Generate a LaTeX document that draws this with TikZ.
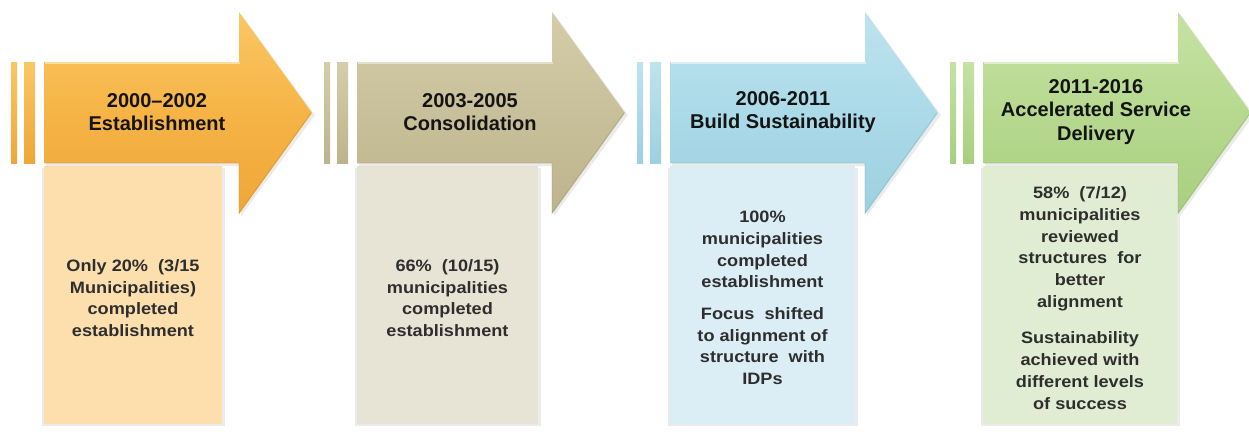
\documentclass[tikz,border=0pt]{standalone}
\usepackage{fontspec}
\setmainfont{Liberation Sans}
\newfontfamily\notefont[FakeStretch=1.1]{Liberation Sans}
\begin{document}
\definecolor{orA}{HTML}{F6B446}\definecolor{orL}{HTML}{FAC765}\definecolor{orD}{HTML}{EFA638}\definecolor{orB}{HTML}{FDDFAE}
\definecolor{tnA}{HTML}{C8C09A}\definecolor{tnL}{HTML}{D4CDA9}\definecolor{tnD}{HTML}{BDB48C}\definecolor{tnB}{HTML}{E8E4D5}
\definecolor{blA}{HTML}{ABDAE8}\definecolor{blL}{HTML}{BEE3EE}\definecolor{blD}{HTML}{9DD0E0}\definecolor{blB}{HTML}{DBEEF5}
\definecolor{grA}{HTML}{B6D98F}\definecolor{grL}{HTML}{C6E2A4}\definecolor{grD}{HTML}{A8CF80}\definecolor{grB}{HTML}{E1EDD2}
\definecolor{boxtext}{HTML}{2E2E2E}
\tikzset{
  titletext/.style={font=\bfseries\fontsize{20}{23.4}\selectfont, text=black!92, align=center, inner sep=0pt},
  bodytext/.style={font=\notefont\bfseries\fontsize{16.5}{21.7}\selectfont, text=boxtext, align=center, inner sep=0pt},
  softshadow/.style={fill=black, opacity=0.08},
}
% #1 id, #2 left edge of the arrow body, #3 colour prefix, #4 width of the note box,
% #5 title, #6 note text
\newcommand\timelinephase[6]{%
  \begin{scope}[xshift=#2]
    % note box below the arrow
    \fill[softshadow] (-2,168) rectangle (#4+3,426);
    \fill[#3B] (0,166) rectangle (#4,424);
    % two thin bars before the arrow
    \shade[top color=#3L, bottom color=#3D] (-33,62) rectangle (-27,163);
    \shade[top color=#3L, bottom color=#3D] (-20,62) rectangle (-9,163);
    % block arrow
    \fill[softshadow] (2,64) -- (197,64) -- (197,14) -- (271,115) -- (197,216) -- (197,166) -- (2,166) -- cycle;
    \shade[top color=#3L, bottom color=#3D, middle color=#3A]
      (0,62) -- (195,62) -- (195,12) -- (268,113) -- (195,214) -- (195,163) -- (0,163) -- cycle;
    \draw[#3L!60!white, line width=1.2pt] (1,63) -- (196,63);
    \draw[#3D!85!black, line width=0.8pt, opacity=0.5] (1,163) -- (195,163) -- (195,213) -- (267,113);
    \node[titletext] (#1title) at (113,112) {#5};
    \node[bodytext] (#1note) at (#4/2,298) {#6};
  \end{scope}}
\begin{tikzpicture}[x=1pt,y=-1pt]
  \useasboundingbox (0,0) rectangle (1249,431);
  \fill[white] (0,0) rectangle (1249,431);
  \timelinephase{p1}{44}{or}{178}{2000–2002\\Establishment}
    {Only 20\%\ \ (3/15\\Municipalities)\\completed\\establishment}
  \timelinephase{p2}{357}{tn}{181}{2003-2005\\Consolidation}
    {66\%\ \ (10/15)\\municipalities\\completed\\establishment}
  \timelinephase{p3}{670}{bl}{185}{2006-2011\\Build Sustainability}
    {100\%\\municipalities\\completed\\establishment\\[10pt]Focus\ \ shifted\\to alignment of\\structure\ \ with\\IDPs}
  \timelinephase{p4}{983}{gr}{194}{2011-2016\\Accelerated Service\\Delivery}
    {58\%\ \ (7/12)\\municipalities\\reviewed\\structures\ \ for\\better\\alignment\\[15pt]Sustainability\\achieved with\\different levels\\of success}
\end{tikzpicture}
\end{document}
